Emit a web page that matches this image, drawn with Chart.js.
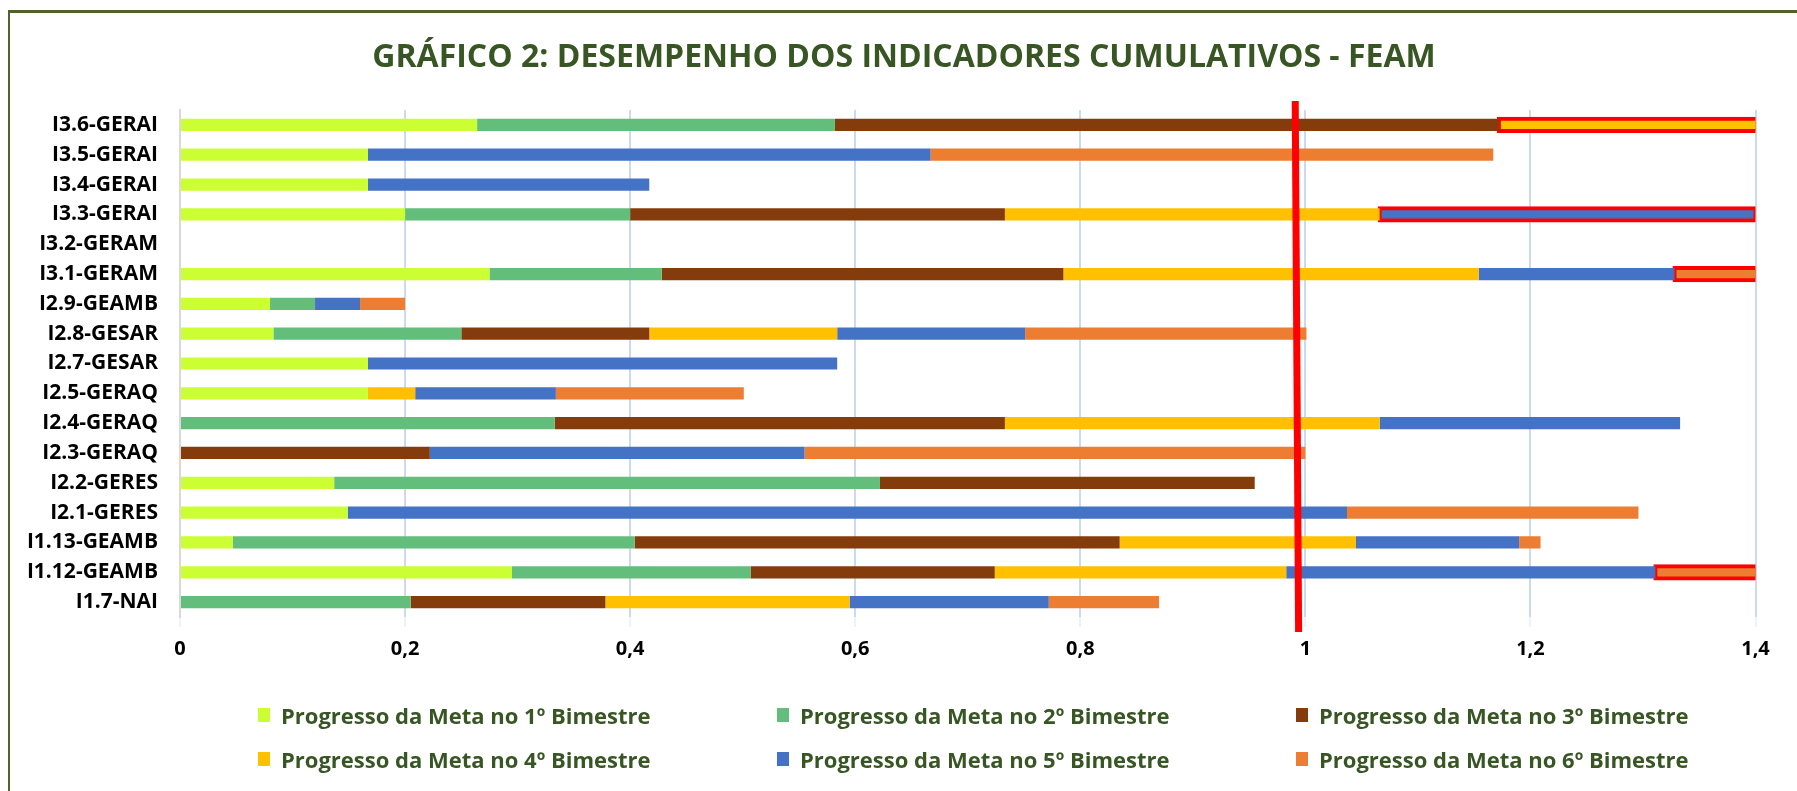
<!DOCTYPE html>
<html>
<head>
<meta charset="utf-8">
<script src="https://cdn.jsdelivr.net/npm/chart.js@4.4.1/dist/chart.umd.min.js"></script>
<style>
    body { margin: 0; background: #fff; font-family: 'Open Sans', sans-serif; }
    .wrap { position: relative; width: 1797px; height: 791px; overflow: hidden; }
    .frame { position: absolute; left: 8px; top: 10px; width: 1900px; height: 900px; border-left: 2px solid #4f6228; border-top: 3px solid #4f6228; }
    canvas { position: absolute; left: 0; top: 0; }
    .title { position: absolute; left: 0; top: 36px; width: 1808px; text-align: center; line-height: 38px; color: #375623; font-weight: 700; font-size: 32px; white-space: nowrap; }
    .legend { position: absolute; left: 258px; top: 703px; display: grid; grid-template-columns: repeat(3, 519px); row-gap: 20px; }
    .legend-item { display: flex; align-items: center; height: 24px; color: #375623; font-weight: 700; font-size: 22px; white-space: nowrap; }
    .legend-box { width: 12px; height: 14px; margin-right: 11px; }
</style>
</head>
<body>
<div class="wrap">
    <div class="frame"></div>
    <canvas id="chart" width="1797" height="791"></canvas>
    <div class="title">GRÁFICO 2: DESEMPENHO DOS INDICADORES CUMULATIVOS - FEAM</div>
    <div class="legend" id="legend"></div>
</div>
<script>
const categories = ['I3.6-GERAI', 'I3.5-GERAI', 'I3.4-GERAI', 'I3.3-GERAI', 'I3.2-GERAM', 'I3.1-GERAM', 'I2.9-GEAMB', 'I2.8-GESAR',
    'I2.7-GESAR', 'I2.5-GERAQ', 'I2.4-GERAQ', 'I2.3-GERAQ', 'I2.2-GERES', 'I2.1-GERES', 'I1.13-GEAMB', 'I1.12-GEAMB', 'I1.7-NAI'];

// progress added in each bimester (stacked)
const bim1 = [0.264, 0.167, 0.167, 0.2, 0, 0.275, 0.08, 0.083, 0.167, 0.167, 0, 0, 0.137, 0.149, 0.047, 0.295, 0];
const bim2 = [0.318, 0, 0, 0.2, 0, 0.153, 0.04, 0.167, 0, 0, 0.333, 0, 0.485, 0, 0.357, 0.212, 0.205];
const bim3 = [0.590, 0, 0, 0.333, 0, 0.357, 0, 0.167, 0, 0, 0.4, 0.222, 0.333, 0, 0.431, 0.217, 0.173];
const bim4 = [0.30, 0, 0, 0.333, 0, 0.369, 0, 0.167, 0, 0.042, 0.333, 0, 0, 0, 0.21, 0.259, 0.217];
const bim5 = [0, 0.5, 0.25, 0.334, 0, 0.174, 0.04, 0.167, 0.417, 0.125, 0.267, 0.333, 0, 0.888, 0.145, 0.328, 0.177];
const bim6 = [0, 0.5, 0, 0, 0, 0.12, 0.04, 0.25, 0, 0.167, 0, 0.445, 0, 0.259, 0.019, 0.15, 0.098];

const seriesNames = ['Progresso da Meta no 1º Bimestre', 'Progresso da Meta no 2º Bimestre', 'Progresso da Meta no 3º Bimestre',
    'Progresso da Meta no 4º Bimestre', 'Progresso da Meta no 5º Bimestre', 'Progresso da Meta no 6º Bimestre'];
const seriesColors = ['#ccff33', '#63be7b', '#843c0c', '#ffc000', '#4472c4', '#ed7d31'];

const xTickLabels = ['0', '0,2', '0,4', '0,6', '0,8', '1', '1,2', '1,4'];

// segments outlined in red (past the axis limit)
const highlightCats = ['I3.6-GERAI', 'I3.3-GERAI', 'I3.1-GERAM', 'I1.12-GEAMB'];
const highlightSeries = [3, 4, 5, 5];

// red goal line (value at top, value at bottom)
const goalLine = [0.991, 0.994];

const FONT = "'Open Sans', sans-serif";
const isHL = ctx => {
    const i = highlightCats.indexOf(categories[ctx.dataIndex]);
    return i >= 0 && highlightSeries[i] === ctx.datasetIndex;
};

const goalLinePlugin = {
    id: 'goalLine',
    afterDatasetsDraw(chart) {
        const { ctx, chartArea, scales } = chart;
        ctx.save();
        ctx.strokeStyle = '#ff0000';
        ctx.lineWidth = 7;
        ctx.beginPath();
        ctx.moveTo(scales.x.getPixelForValue(goalLine[0]), chartArea.top - 9);
        ctx.lineTo(scales.x.getPixelForValue(goalLine[1]), chartArea.bottom + 15);
        ctx.stroke();
        ctx.restore();
    }
};

const allSeries = [bim1, bim2, bim3, bim4, bim5, bim6];

new Chart(document.getElementById('chart'), {
    type: 'bar',
    data: {
        labels: categories,
        datasets: allSeries.map((d, i) => ({
            label: seriesNames[i],
            data: d,
            backgroundColor: seriesColors[i],
            borderColor: '#ff0000',
            borderWidth: ctx => isHL(ctx) ? 4 : 0,
            borderSkipped: ctx => isHL(ctx) ? false : 'start',
            inflateAmount: ctx => isHL(ctx) ? 2 : 'auto',
            barPercentage: 0.41,
            categoryPercentage: 1
        }))
    },
    options: {
        indexAxis: 'y',
        responsive: false,
        animation: false,
        layout: { padding: { left: 0, right: 41.5, top: 110, bottom: 120 } },
        plugins: {
            legend: { display: false },
            tooltip: { enabled: false }
        },
        scales: {
            x: {
                stacked: true,
                min: 0,
                max: 1.4,
                ticks: {
                    stepSize: 0.2,
                    padding: 10,
                    color: '#000',
                    font: { family: FONT, size: 20, weight: 'bold' },
                    callback: (v, i) => xTickLabels[i]
                },
                grid: {
                    color: ctx => ctx.index === 0 ? '#d9d9d9' : '#cbdbef',
                    lineWidth: 2,
                    tickLength: 10,
                    tickColor: '#eef3fa'
                },
                border: { display: false }
            },
            y: {
                stacked: true,
                afterFit: s => { s.width = 180; },
                ticks: {
                    padding: 22,
                    color: '#000',
                    font: { family: FONT, size: 21, weight: 'bold' }
                },
                grid: { display: false, drawTicks: false },
                border: { display: true, color: '#d9d9d9', width: 2 }
            }
        }
    },
    plugins: [goalLinePlugin]
});

// legend, three per row
document.getElementById('legend').innerHTML = seriesNames.map((n, i) => `
    <div class="legend-item"><span class="legend-box" style="background:${seriesColors[i]}"></span>${n}</div>
`).join('');
</script>
</body>
</html>
